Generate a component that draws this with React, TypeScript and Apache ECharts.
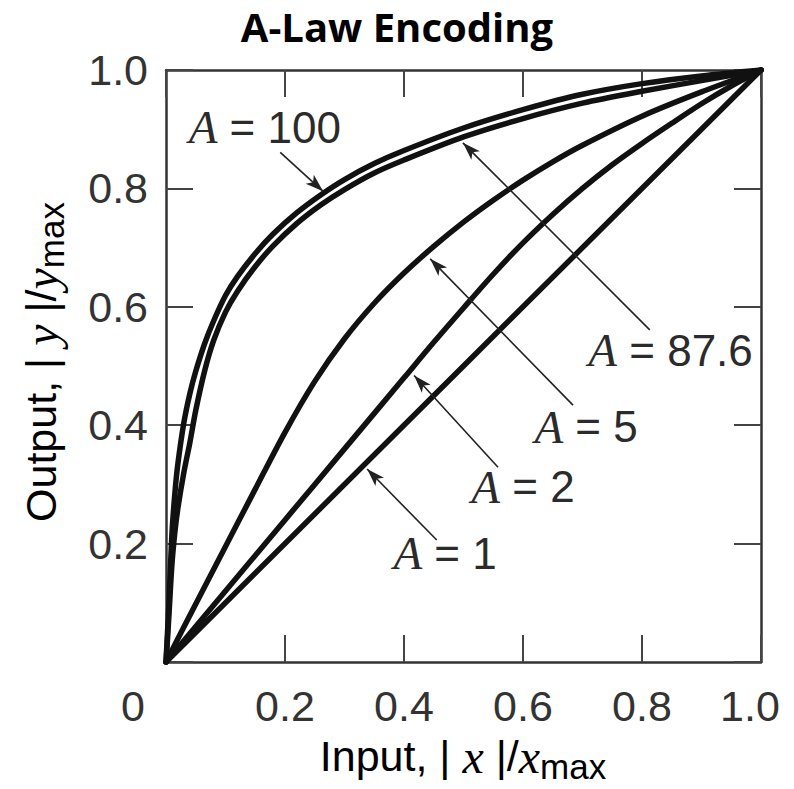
import React, { useEffect, useRef } from "react";
import * as echarts from "echarts";

// ---- data ----
const tickValues = [0, 0.2, 0.4, 0.6, 0.8, 1.0];

const a100X = [0, 0.002, 0.005, 0.01, 0.015, 0.02, 0.03, 0.04, 0.05, 0.065, 0.08, 0.1, 0.12, 0.15, 0.18, 0.22, 0.26, 0.3, 0.35, 0.4, 0.5, 0.6, 0.7, 0.8, 0.9, 1.0];
const a100Y = [0, 0.04, 0.1, 0.217, 0.286, 0.335, 0.404, 0.453, 0.491, 0.538, 0.576, 0.619, 0.651, 0.69, 0.723, 0.759, 0.789, 0.815, 0.842, 0.864, 0.902, 0.933, 0.959, 0.977, 0.99, 1.0];

const a876X = [0, 0.002, 0.005, 0.01, 0.015, 0.02, 0.03, 0.04, 0.05, 0.065, 0.08, 0.1, 0.12, 0.15, 0.18, 0.22, 0.26, 0.3, 0.35, 0.4, 0.5, 0.6, 0.7, 0.8, 0.9, 1.0];
const a876Y = [0, 0.03, 0.08, 0.165, 0.22, 0.26, 0.32, 0.37, 0.425, 0.492, 0.543, 0.591, 0.626, 0.668, 0.703, 0.741, 0.772, 0.798, 0.826, 0.848, 0.887, 0.918, 0.944, 0.964, 0.982, 1.0];

const a5X = [0, 0.05, 0.1, 0.15, 0.2, 0.25, 0.3, 0.35, 0.4, 0.45, 0.5, 0.55, 0.6, 0.65, 0.7, 0.8, 0.9, 1.0];
const a5Y = [0, 0.098, 0.195, 0.292, 0.388, 0.474, 0.546, 0.606, 0.657, 0.702, 0.743, 0.78, 0.814, 0.845, 0.873, 0.922, 0.963, 1.0];

const a2X = [0, 0.1, 0.2, 0.3, 0.4, 0.45, 0.5, 0.55, 0.6, 0.65, 0.7, 0.75, 0.8, 0.85, 0.9, 0.95, 1.0];
const a2Y = [0, 0.12, 0.24, 0.36, 0.48, 0.54, 0.598, 0.655, 0.708, 0.756, 0.8, 0.84, 0.876, 0.91, 0.943, 0.973, 1.0];

const a1X = [0, 0.5, 1.0];
const a1Y = [0, 0.5, 1.0];

const annotationValues = ["100", "87.6", "5", "2", "1"];
const annotationX = [0.166, 0.848, 0.706, 0.6, 0.469];
const annotationY = [0.903, 0.527, 0.397, 0.296, 0.184];
const arrowFromX = [0.192, 0.813, 0.684, 0.558, 0.455];
const arrowFromY = [0.861, 0.561, 0.434, 0.329, 0.206];
const arrowToX = [0.264, 0.499, 0.444, 0.417, 0.338];
const arrowToY = [0.795, 0.877, 0.681, 0.484, 0.326];

const SANS = "'Liberation Sans', Arial, Helvetica, sans-serif";
const SERIF = "'Liberation Serif', 'Times New Roman', serif";
const TEXT = "#2b2b2b";

const pairs = (xs: number[], ys: number[]) => xs.map((x, i) => [x, ys[i]]);

export default function App() {
  const ref = useRef<HTMLDivElement>(null);

  useEffect(() => {
    const chart = echarts.init(ref.current as HTMLDivElement, null, { renderer: "svg" });

    const axisCommon = {
      type: "value" as const,
      min: tickValues[0],
      max: tickValues[tickValues.length - 1],
      interval: 0.2,
      splitLine: { show: false },
      axisLine: { show: true, onZero: false, lineStyle: { color: "#333", width: 2.5 } },
      axisTick: { show: true, inside: true, length: 27, lineStyle: { color: "#444", width: 2 } },
    };

    const curveStyle = { color: "#111", width: 5.5, cap: "round" as const, join: "round" as const };

    const curve = (name: string, xs: number[], ys: number[], extra: any = {}) => ({
      name,
      type: "line",
      data: pairs(xs, ys),
      showSymbol: false,
      symbol: "none",
      smooth: 0.3,
      lineStyle: curveStyle,
      silent: true,
      z: 3,
      ...extra,
    });

    const titleRich = {
      s: { fontFamily: SANS, fontSize: 43, color: TEXT, lineHeight: 56 },
      i: { fontFamily: SERIF, fontStyle: "italic", fontSize: 48, color: TEXT, lineHeight: 56 },
      sub: { fontFamily: SANS, fontSize: 35, color: TEXT, lineHeight: 40, verticalAlign: "bottom" },
    };

    const option: any = {
      animation: false,
      backgroundColor: "#fff",
      title: {
        text: "A-Law Encoding",
        left: "center",
        top: 1,
        textStyle: {
          fontFamily: "'Open Sans', 'Noto Sans', sans-serif",
          fontWeight: "bold",
          fontSize: 40,
          color: "#000",
        },
      },
      grid: { left: 166, top: 70, width: 595, height: 592, containLabel: false },
      xAxis: [
        {
          ...axisCommon,
          position: "bottom",
          axisLabel: {
            show: true,
            margin: 22,
            fontFamily: SANS,
            fontSize: 43,
            color: "#333",
            formatter: (v: number) => (v === 0 ? "{z|0}" : v === 1 ? "{r|1.0}" : v.toFixed(1)),
            rich: {
              z: { fontFamily: SANS, fontSize: 43, color: "#333", padding: [0, 66, 0, 0] },
              r: { fontFamily: SANS, fontSize: 43, color: "#333", padding: [0, 22, 0, 0] },
            },
          },
        },
        { ...axisCommon, position: "top", axisLabel: { show: false } },
      ],
      yAxis: [
        {
          ...axisCommon,
          position: "left",
          axisLabel: {
            show: true,
            margin: 18,
            fontFamily: SANS,
            fontSize: 43,
            color: "#333",
            formatter: (v: number) => (v === 0 ? "" : v.toFixed(1)),
          },
        },
        { ...axisCommon, position: "right", axisLabel: { show: false } },
      ],
      graphic: [
        {
          type: "text",
          x: 463,
          y: 756,
          style: {
            text: "{s|Input, | }{i|x}{s| |/}{i|x}{sub|max}",
            align: "center",
            verticalAlign: "middle",
            rich: titleRich,
          },
        },
        {
          type: "text",
          x: 41,
          y: 362,
          rotation: Math.PI / 2,
          style: {
            text: "{s|Output, | }{i|y}{s| |/}{i|y}{sub|max}",
            align: "center",
            verticalAlign: "middle",
            rich: titleRich,
          },
        },
      ],
      series: [
        curve("A = 100", a100X, a100Y),
        curve("A = 87.6", a876X, a876Y),
        curve("A = 5", a5X, a5Y),
        curve("A = 2", a2X, a2Y),
        curve("A = 1", a1X, a1Y, {
          smooth: false,
          markLine: {
            silent: true,
            symbol: ["none", "arrow"],
            symbolSize: [9, 18],
            label: { show: false },
            lineStyle: { color: "#222", width: 1.6, type: "solid", opacity: 1 },
            emphasis: { disabled: true },
            data: arrowFromX.map((fx, i) => [
              { coord: [fx, arrowFromY[i]] },
              { coord: [arrowToX[i], arrowToY[i]] },
            ]),
          },
        }),
        {
          name: "labels",
          type: "scatter",
          silent: true,
          symbolSize: 0,
          itemStyle: { opacity: 1 },
          z: 5,
          data: annotationX.map((x, i) => [x, annotationY[i]]),
          label: {
            show: true,
            position: "inside",
            opacity: 1,
            formatter: (p: any) => `{i|A}{s| = ${annotationValues[p.dataIndex]}}`,
            rich: {
              i: { fontFamily: SERIF, fontStyle: "italic", fontSize: 47, color: TEXT },
              s: { fontFamily: SANS, fontSize: 44, color: TEXT },
            },
          },
        },
      ],
    };

    chart.setOption(option);
    return () => chart.dispose();
  }, []);

  return (
    <div
      ref={ref}
      style={{ position: "fixed", left: 0, top: 0, width: 794, height: 789, background: "#fff" }}
    />
  );
}
